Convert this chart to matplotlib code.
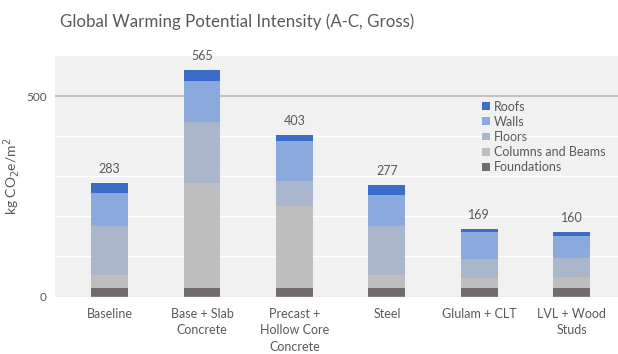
import matplotlib
matplotlib.use("Agg")
import matplotlib.pyplot as plt
import numpy as np

plt.rcParams['font.family'] = ['Lato', 'DejaVu Sans']

categories = ["Baseline", "Base + Slab\nConcrete", "Precast +\nHollow Core\nConcrete",
              "Steel", "Glulam + CLT", "LVL + Wood\nStuds"]
foundations = [22, 22, 22, 22, 22, 22]
columns_beams = [32, 261, 204, 32, 23, 26]
floors = [123, 153, 61, 123, 49, 49]
walls = [81, 102, 101, 75, 66, 54]
roofs = [25, 27, 15, 25, 9, 9]
totals = [283, 565, 403, 277, 169, 160]

series = [
    ("Foundations", foundations, "#716b6b"),
    ("Columns and Beams", columns_beams, "#bebebe"),
    ("Floors", floors, "#a9b6cb"),
    ("Walls", walls, "#8ba9dd"),
    ("Roofs", roofs, "#3b6cc9"),
]

text_color = "#595959"
bg = "#f1f1f1"

fig = plt.figure(figsize=(6.18, 3.54), dpi=100)
ax = fig.add_axes([55 / 618, 1 - 296.5 / 354, (618 - 55) / 618, (296.5 - 56) / 354])
ax.set_facecolor(bg)

x = np.arange(len(categories))
bottom = np.zeros(len(categories))
handles = []
for name, vals, color in series:
    h = ax.bar(x, vals, width=0.4, bottom=bottom, color=color, label=name, zorder=3)
    handles.append(h)
    bottom += np.array(vals)

for xi, t in zip(x, totals):
    ax.text(xi, t + 20, f"{t}", ha="center", va="bottom", fontsize=9, color=text_color)

ax.set_ylim(0, 600)
ax.set_xlim(-0.59, 5.5)
ax.set_yticks([0, 500])
ax.set_yticklabels(["0", "500"], fontsize=8.5, color=text_color)
for yv in [100, 200, 300, 400]:
    ax.axhline(yv, color="white", lw=1.0, zorder=1)
ax.axhline(500, color="#c3c3c3", lw=1.5, zorder=1)
ax.axhline(0, color="#d9d9d9", lw=1.0, zorder=4)

ax.set_xticks(x)
ax.set_xticklabels(categories, fontsize=9, color=text_color, linespacing=1.45)
ax.tick_params(axis="x", length=0, pad=8)
ax.tick_params(axis="y", length=0, pad=6)
for s in ax.spines.values():
    s.set_visible(False)

ax.set_ylabel("kg CO$_2$e/m$^2$", fontsize=10, color=text_color)
ax.yaxis.set_label_coords(-0.059, 0.5)

fig.text(60 / 618, 1 - 22 / 354, "Global Warming Potential Intensity (A-C, Gross)",
         fontsize=12.2, color=text_color, va="center", ha="left")

leg = ax.legend(handles=handles[::-1], loc="upper left", bbox_to_anchor=(0.75, 0.835),
                frameon=False, fontsize=9, labelcolor=text_color,
                handlelength=0.6, handleheight=0.6, handletextpad=0.3,
                labelspacing=0.25, borderaxespad=0)

fig.savefig("out.png", dpi=100, facecolor="white")
